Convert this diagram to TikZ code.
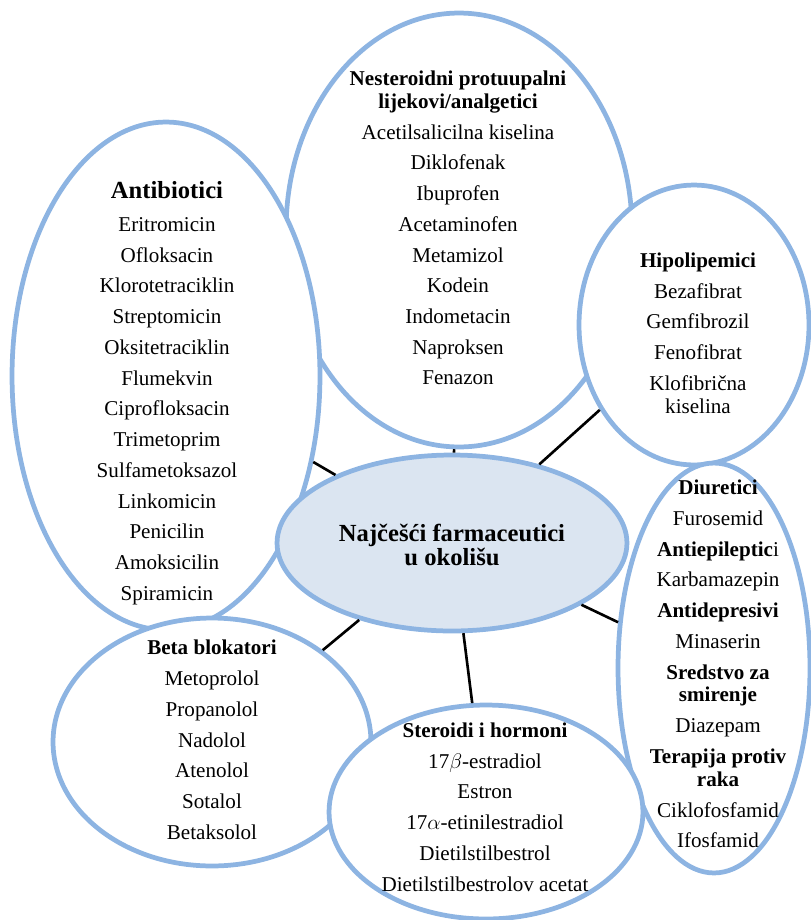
\documentclass[tikz,border=0pt]{standalone}
\usepackage{fontspec}
\setmainfont{Liberation Serif}
\usetikzlibrary{shapes.geometric,shadows}
\definecolor{bubline}{RGB}{141,180,226}
\definecolor{bubfill}{RGB}{219,229,241}
\tikzset{
  bub/.style={ellipse, draw=bubline, line width=2.7pt, fill=white, inner sep=0pt,
    drop shadow={opacity=0.18, shadow xshift=0.5pt, shadow yshift=-0.9pt}},
  txt/.style={align=center, inner sep=0pt, font=\fontsize{12}{13}\selectfont},
  link/.style={black, line width=1.5pt},
}

\begin{document}
\begin{tikzpicture}[x=0.02cm, y=-0.02cm]
\useasboundingbox (0,0) rectangle (811,920);
\coordinate (N) at (459,230);
\coordinate (A) at (166,376);
\coordinate (H) at (694,325);
\coordinate (C) at (452,543);
\coordinate (D) at (714,668);
\coordinate (B) at (212,742);
\coordinate (S) at (486,812);
\node[bub, minimum width=6.92cm, minimum height=8.68cm] (nsaid) at (N) {};
\node[bub, minimum width=6.16cm, minimum height=10.16cm] (anti) at (A) {};
\node[bub, minimum width=4.6cm, minimum height=5.6cm] (hipo) at (H) {};
\node[bub, fill=bubfill, minimum width=7cm, minimum height=3.52cm] (centre) at (C) {};
\node[bub, minimum width=3.84cm, minimum height=8.2cm] (diur) at (D) {};
\node[bub, minimum width=6.36cm, minimum height=4.96cm] (beta) at (B) {};
\node[bub, minimum width=6.28cm, minimum height=4.28cm] (ster) at (S) {};
\draw[link] (centre)--(nsaid);
\draw[link] (centre)--(anti);
\draw[link] (centre)--(hipo);
\draw[link] (centre)--(diur);
\draw[link] (centre)--(beta);
\draw[link] (centre)--(ster);
\node[txt, font=\bfseries\fontsize{14}{13.6}\selectfont] (centretxt) at (452,545) {Najčešći farmaceutici\\u okolišu};
\node[txt] (nsaidtxt) at (458,228) {\textbf{Nesteroidni protuupalni}\\\textbf{lijekovi/analgetici}\\[4.5pt]
  Acetilsalicilna kiselina\\[4.5pt]Diklofenak\\[4.5pt]Ibuprofen\\[4.5pt]Acetaminofen\\[4.5pt]Metamizol\\[4.5pt]
  Kodein\\[4.5pt]Indometacin\\[4.5pt]Naproksen\\[4.5pt]Fenazon};
\node[txt] (antitxt) at (167,393) {{\bfseries\fontsize{14}{13}\selectfont Antibiotici}\\[5.8pt]
  Eritromicin\\[4.5pt]Ofloksacin\\[4.5pt]Klorotetraciklin\\[4.5pt]Streptomicin\\[4.5pt]Oksitetraciklin\\[4.5pt]
  Flumekvin\\[4.5pt]Ciprofloksacin\\[4.5pt]Trimetoprim\\[4.5pt]Sulfametoksazol\\[4.5pt]Linkomicin\\[4.5pt]
  Penicilin\\[4.5pt]Amoksicilin\\[4.5pt]Spiramicin};
\node[txt] (hipotxt) at (698,333) {\textbf{Hipolipemici}\\[4.5pt]Bezafibrat\\[4.5pt]Gemfibrozil\\[4.5pt]Fenofibrat\\[4.5pt]
  Klofibrična\\kiselina};
\node[txt] (diurtxt) at (718,664) {\textbf{Diuretici}\\[4.5pt]Furosemid\\[4.5pt]\textbf{Antiepileptic}i\\[4.5pt]
  Karbamazepin\\[4.5pt]\textbf{Antidepresivi}\\[4.5pt]Minaserin\\[4.5pt]\textbf{Sredstvo za}\\\textbf{smirenje}\\[4.5pt]
  Diazepam\\[4.5pt]\textbf{Terapija protiv}\\\textbf{raka}\\[4.5pt]Ciklofosfamid\\[4.5pt]Ifosfamid};
\node[txt] (betatxt) at (212,740) {\textbf{Beta blokatori}\\[4.5pt]Metoprolol\\[4.5pt]Propanolol\\[4.5pt]Nadolol\\[4.5pt]
  Atenolol\\[4.5pt]Sotalol\\[4.5pt]Betaksolol};
\node[txt] (stertxt) at (485,807) {\textbf{Steroidi i hormoni}\\[4.5pt]17$\beta$-estradiol\\[4.5pt]Estron\\[4.5pt]
  17$\alpha$-etinilestradiol\\[4.5pt]Dietilstilbestrol\\[4.5pt]Dietilstilbestrolov acetat};
\end{tikzpicture}
\end{document}
